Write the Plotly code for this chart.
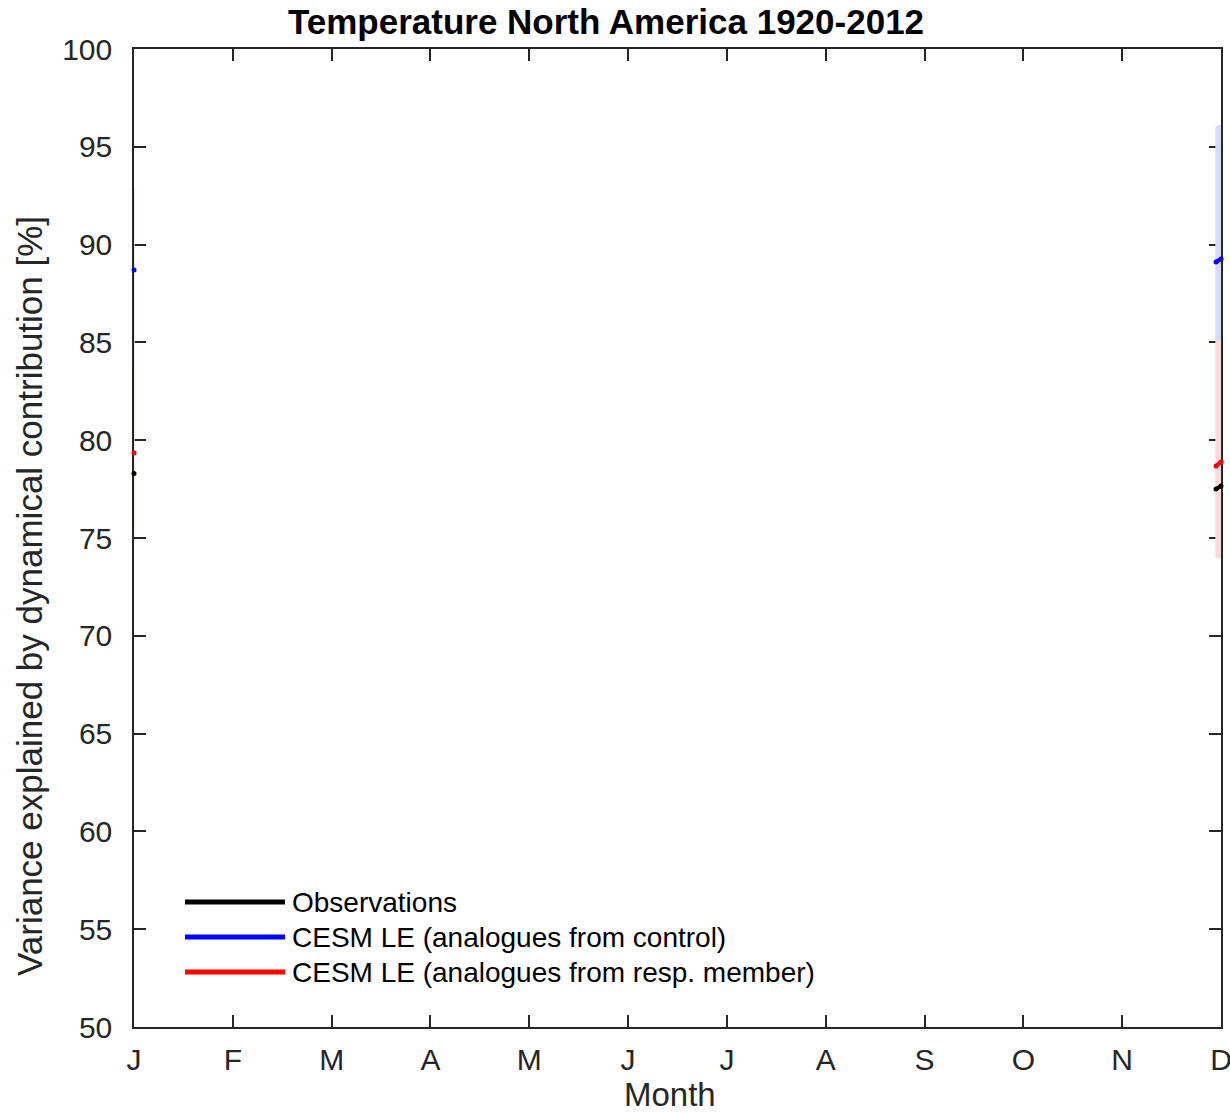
import plotly.graph_objects as go

# Month axis (1 = Jan ... 12 = Dec)
month_numbers = list(range(1, 13))
month_labels = ["J", "F", "M", "A", "M", "J", "J", "A", "S", "O", "N", "D"]
y_ticks = list(range(50, 101, 5))

# Variance explained by dynamical contribution [%]
# Each series: value at January, then the short December piece
obs_x = [1, None, 11.95, 12.0]
obs_y = [78.3, None, 77.5, 77.66]

ctrl_x = [1, None, 11.95, 12.0]
ctrl_y = [88.7, None, 89.11, 89.26]

resp_x = [1, None, 11.95, 12.0]
resp_y = [79.35, None, 78.68, 78.89]

# Uncertainty ranges (lower / upper) for the two model estimates
band_x = [1, None, 11.95, 12.0]
ctrl_lo = [83.6, None, 85.1, 85.1]
ctrl_hi = [92.9, None, 96.0, 96.1]
resp_lo = [75.15, None, 74.0, 74.0]
resp_hi = [83.6, None, 85.1, 85.1]

series_names = [
    "Observations",
    "CESM LE (analogues from control)",
    "CESM LE (analogues from resp. member)",
]
series_colors = ["#000000", "#0000FF", "#FF0000"]
band_colors = ["rgb(217,217,255)", "rgb(255,217,217)"]

FONT = "Liberation Sans, Arial, Helvetica, sans-serif"


def band_polygon(xs, lo, hi):
    """Closed outline for each piece of a band, pieces split by None."""
    px, py = [], []
    pieces, cur = [], []
    for x, l, h in zip(xs, lo, hi):
        if x is None:
            if cur:
                pieces.append(cur)
            cur = []
        else:
            cur.append((x, l, h))
    if cur:
        pieces.append(cur)
    for piece in pieces:
        if px:
            px.append(None)
            py.append(None)
        px += [p[0] for p in piece] + [p[0] for p in reversed(piece)] + [piece[0][0]]
        py += [p[1] for p in piece] + [p[2] for p in reversed(piece)] + [piece[0][1]]
    return px, py


fig = go.Figure()

for lo, hi, col in [(ctrl_lo, ctrl_hi, band_colors[0]), (resp_lo, resp_hi, band_colors[1])]:
    bx, by = band_polygon(band_x, lo, hi)
    fig.add_trace(go.Scatter(
        x=bx, y=by, mode="lines", fill="toself", fillcolor=col,
        line=dict(color=col, width=1.5), hoverinfo="skip",
        showlegend=False, cliponaxis=False,
    ))

for xs, ys, name, col in [
    (obs_x, obs_y, series_names[0], series_colors[0]),
    (ctrl_x, ctrl_y, series_names[1], series_colors[1]),
    (resp_x, resp_y, series_names[2], series_colors[2]),
]:
    fig.add_trace(go.Scatter(
        x=xs, y=ys, mode="lines+markers", name=name,
        line=dict(color=col, width=4), marker=dict(color=col, size=5),
        connectgaps=False, showlegend=False, cliponaxis=False,
    ))

# Hand-drawn legend in the lower-left corner of the axes
legend_y = [0.1278, 0.0920, 0.0562]
for name, col, ly in zip(series_names, series_colors, legend_y):
    fig.add_shape(type="line", xref="paper", yref="paper",
                  x0=0.0469, x1=0.1389, y0=ly, y1=ly,
                  line=dict(color=col, width=5))
    fig.add_annotation(x=0.1435, y=ly, xref="paper", yref="paper",
                       text=name, showarrow=False, xanchor="left", yanchor="middle",
                       font=dict(family=FONT, size=28, color="#000000"))

axis_common = dict(
    showgrid=False, zeroline=False, showline=True, linecolor="#262626", linewidth=1.5,
    mirror="ticks", ticks="inside", ticklen=12, tickwidth=1.5, tickcolor="#262626",
    tickfont=dict(family=FONT, size=30, color="#262626"), layer="below traces",
    automargin=False, ticklabeloverflow="allow",
)

fig.update_layout(
    width=1230, height=1114,
    margin=dict(l=134, r=9, t=49, b=87),
    paper_bgcolor="white", plot_bgcolor="white",
    title=dict(text="<b>Temperature North America 1920-2012</b>",
               x=606 / 1230, xanchor="center", y=1 - 22 / 1114, yanchor="middle",
               font=dict(family=FONT, size=35, color="#000000")),
    xaxis=dict(range=[1, 12], tickvals=month_numbers, ticktext=month_labels,
               ticklabelstandoff=5, **axis_common),
    yaxis=dict(range=[50, 100], tickvals=y_ticks, ticklabelstandoff=14, **axis_common),
    showlegend=False,
)

fig.add_annotation(x=-0.0957, y=0.4407, xref="paper", yref="paper",
                   text="Variance explained by dynamical contribution [%]",
                   textangle=-90, showarrow=False, xanchor="center", yanchor="middle",
                   font=dict(family=FONT, size=35, color="#262626"))
fig.add_annotation(x=0.493, y=-0.0695, xref="paper", yref="paper",
                   text="Month", showarrow=False, xanchor="center", yanchor="middle",
                   font=dict(family=FONT, size=33, color="#262626"))

fig.write_html("out.html")
